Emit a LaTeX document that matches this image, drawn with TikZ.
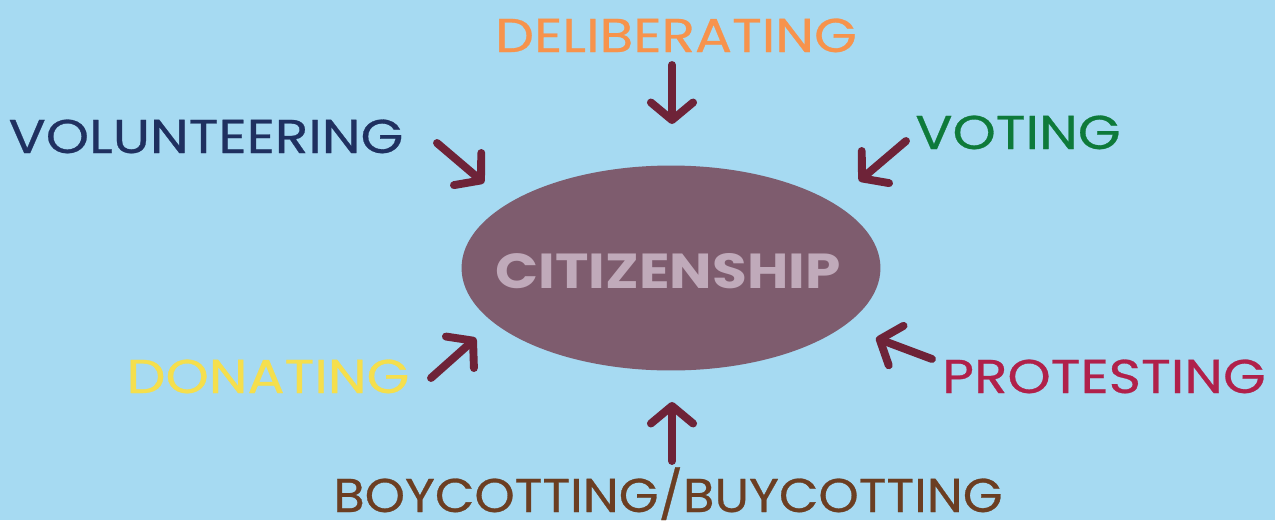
\documentclass[tikz,border=0pt]{standalone}
\usepackage{fontspec}
\setmainfont{Poppins}
\newfontfamily\labelfont{Poppins}[FakeStretch=1.16,FakeBold=0.6]
\newfontfamily\longfont{Poppins}[FakeStretch=1.08,FakeBold=0.6]
\newfontfamily\corefont{Poppins}[FakeStretch=1.15]
\usepackage{xcolor}
\usetikzlibrary{arrows.meta,shapes.geometric}
\definecolor{skyback}{RGB}{166,218,242}
\definecolor{mauve}{RGB}{126,92,110}
\definecolor{citytext}{RGB}{192,170,186}
\definecolor{arrowred}{RGB}{110,35,56}
\definecolor{delib}{RGB}{247,147,76}
\definecolor{volun}{RGB}{31,48,96}
\definecolor{votegreen}{RGB}{14,122,58}
\definecolor{donyellow}{RGB}{245,223,77}
\definecolor{protred}{RGB}{176,32,74}
\definecolor{boybrown}{RGB}{107,62,34}
\tikzset{
  word/.style={inner sep=0pt,anchor=base,font=\labelfont\fontsize{27}{27}\selectfont},
  inarrow/.style={draw=arrowred,line width=4.5pt,line cap=round,line join=round,
    -{Straight Barb[length=10pt,width=24pt,line cap=round,line join=round]}},
}
\begin{document}
\begin{tikzpicture}[x=0.02cm,y=-0.02cm]
  \fill[skyback] (0,0) rectangle (1275,520);
  % centre
  \node[ellipse,fill=mauve,minimum width=8.38cm,minimum height=4.1cm] (core) at (671,268) {};
  \node[inner sep=0pt,anchor=base,font=\corefont\fontsize{28}{28}\selectfont\bfseries,text=citytext] (citizen) at (668,288) {CITIZENSHIP};
  % labels
  \node[word,text=delib] (delib) at (676,52) {DELIBERATING};
  \node[word,text=volun] (volun) at (206,153) {VOLUNTEERING};
  \node[word,text=votegreen] (vote) at (1018,149) {VOTING};
  \node[word,text=donyellow] (donate) at (268,393) {DONATING};
  \node[word,text=protred] (protest) at (1104,393) {PROTESTING};
  \node[word,font=\longfont\fontsize{27}{27}\selectfont,text=boybrown] (boycott) at (668,512) {BOYCOTTING/BUYCOTTING};
  % arrow ends
  \coordinate (delib-t) at (672,65);
  \coordinate (delib-h) at (672,124);
  \coordinate (volun-t) at (437,143);
  \coordinate (volun-h) at (484,183);
  \coordinate (vote-t) at (906,141);
  \coordinate (vote-h) at (859,181);
  \coordinate (donate-t) at (431,378);
  \coordinate (donate-h) at (476,338);
  \coordinate (protest-t) at (932,359);
  \coordinate (protest-h) at (876,338);
  \coordinate (boycott-t) at (672,461);
  \coordinate (boycott-h) at (672,402);
  \foreach \w in {delib,volun,vote,donate,protest,boycott}
    \draw[inarrow] (\w-t) -- (\w-h);
\end{tikzpicture}
\end{document}
